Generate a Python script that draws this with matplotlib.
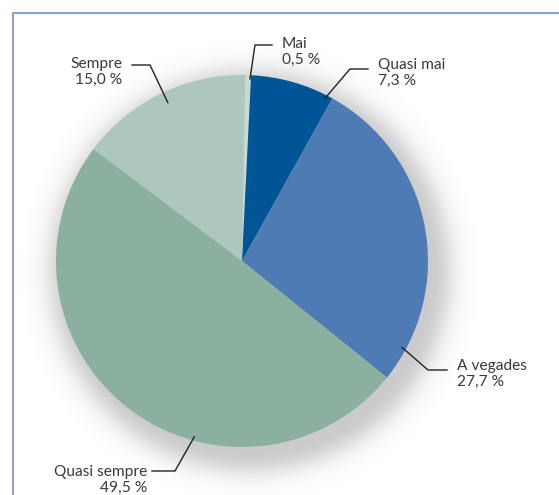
import matplotlib

matplotlib.use("Agg")
import matplotlib.pyplot as plt
from matplotlib.patches import Rectangle
import numpy as np

# data (clockwise from the top)
labels = ["Mai", "Quasi mai", "A vegades", "Quasi sempre", "Sempre"]
values = [0.5, 7.3, 27.7, 49.5, 15.0]
colors = ["#c6dcd2", "#005596", "#4f7bb5", "#8cb0a0", "#adc7bc"]

W, H = 559, 495
CX, CY, R = 242, H - 261, 186

# leader lines: anchor on the wedge (angle deg, radius frac), elbow, end of
# horizontal stroke, text position, alignment  -- all in pixel coords (y down)
anchors = [(87.5, 0.98), (63.0, 0.98), (-28.4, 0.98), (-105.2, 0.98), (115.1, 0.94)]
elbows = [(255, 45), (350, 69), (428, 370), (175, 471), (150, 65)]
stroke_ends = [(272, 45), (368, 69), (447, 370), (152, 471), (132, 65)]
text_pos = [(282, 52), (378, 73), (457, 374), (147, 480), (122, 72)]
text_align = ["left", "left", "left", "right", "right"]


def px(x, y):
    return x, H - y


fig = plt.figure(figsize=(W / 100, H / 100), dpi=100)
ax = fig.add_axes([0, 0, 1, 1])

# soft drop shadow behind the pie, offset down-right
gx, gy = np.meshgrid(np.arange(W) + 0.5, np.arange(H) + 0.5)
d = np.hypot(gx - (CX + 8), gy - (CY - 10)) - R
shade = 0.40 * np.exp(-np.clip(d + 4, 0, None) ** 2 / (2 * 16.0 ** 2))
rgba = np.zeros((H, W, 4))
rgba[..., :3] = 0.5
rgba[..., 3] = shade
ax.imshow(rgba, extent=(0, W, 0, H), origin="lower", zorder=1,
          interpolation="bilinear")

ax.pie(values, colors=colors, startangle=89, counterclock=False,
       center=(CX, CY), radius=R, frame=True,
       wedgeprops=dict(linewidth=0, zorder=2))

for i, lab in enumerate(labels):
    ang, rf = anchors[i]
    a = np.deg2rad(ang)
    x0, y0 = CX + R * rf * np.cos(a), CY + R * rf * np.sin(a)
    ex, ey = px(*elbows[i])
    sx, sy = px(*stroke_ends[i])
    ax.plot([x0, ex, sx], [y0, ey, sy], color="#222222", lw=1.0,
            solid_joinstyle="miter", zorder=5)
    tx, ty = px(*text_pos[i])
    pct = f"{values[i]:.1f}".replace(".", ",") + " %"
    ax.text(tx, ty, f"{lab}\n{pct}", ha=text_align[i], va="center",
            multialignment=text_align[i], fontsize=11.2, family="Lato",
            color="#3a3a3a", linespacing=1.22, zorder=6)

# blue frame, open to the right and bottom
ax.add_patch(Rectangle(px(12.5, 700), 700, 700 - 12.5, fill=False,
                       edgecolor="#6f93c8", lw=1.2, zorder=7))

ax.set_xlim(0, W)
ax.set_ylim(0, H)
ax.set_aspect("equal")
ax.axis("off")

fig.savefig("out.png", dpi=100)
